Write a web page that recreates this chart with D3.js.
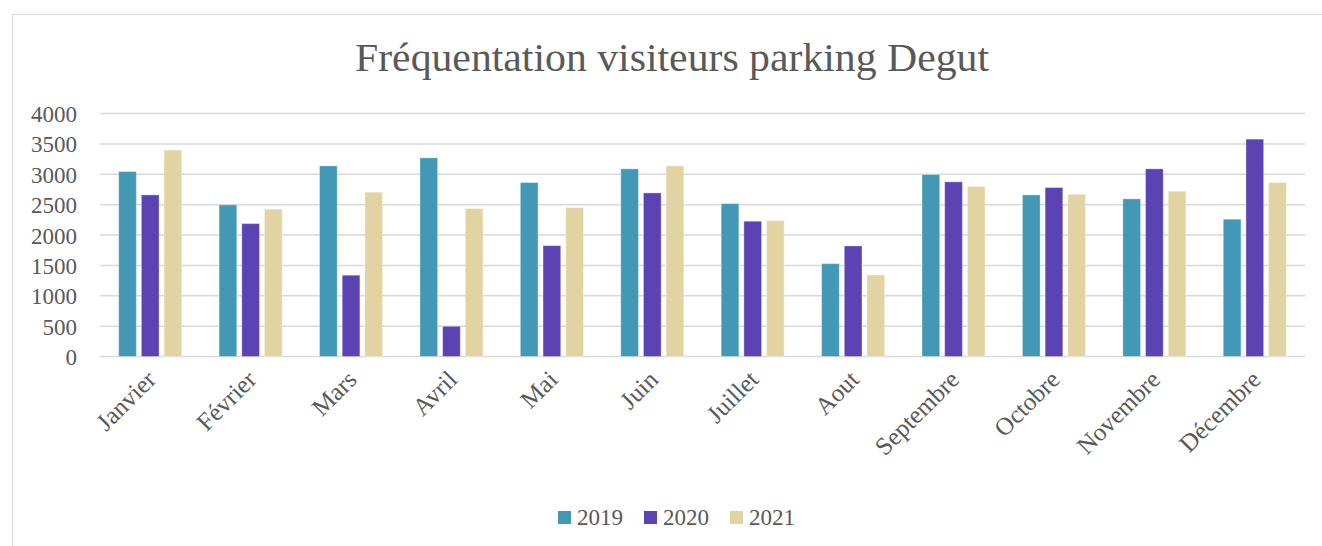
<!DOCTYPE html>
<html>
<head>
<meta charset="utf-8">
<script src="https://cdn.jsdelivr.net/npm/d3@7"></script>
<style>
  body { margin: 0; background: #fff; }
  svg text { font-family: "Palatino Linotype", "Book Antiqua", "Liberation Serif", serif; fill: #595959; }
</style>
</head>
<body>
<div id="chart"></div>
<script>
const months = ["Janvier", "Février", "Mars", "Avril", "Mai", "Juin", "Juillet", "Aout", "Septembre", "Octobre", "Novembre", "Décembre"];
const years = ["2019", "2020", "2021"];
const values2019 = [3045, 2496, 3138, 3270, 2863, 3089, 2517, 1529, 2995, 2660, 2595, 2260];
const values2020 = [2660, 2188, 1338, 497, 1825, 2693, 2227, 1820, 2875, 2781, 3089, 3578];
const values2021 = [3397, 2425, 2705, 2435, 2451, 3138, 2237, 1342, 2797, 2671, 2721, 2863];
const yTicks = [0, 500, 1000, 1500, 2000, 2500, 3000, 3500, 4000];
const colors = ["#4298b5", "#5b43b4", "#e2d4a2"];

const series = [values2019, values2020, values2021];
const data = months.map((m, i) => ({ month: m, vals: years.map((y, j) => ({ year: y, value: series[j][i] })) }));

const width = 1322, height = 546;
const svg = d3.select("#chart").append("svg").attr("width", width).attr("height", height);

// cadre
svg.append("rect").attr("x", 12.5).attr("y", 14.5).attr("width", 1320).attr("height", 540)
  .attr("fill", "none").attr("stroke", "#d9d9d9").attr("stroke-width", 1);

svg.append("text").attr("x", 672).attr("y", 71).attr("text-anchor", "middle")
  .attr("textLength", 634).attr("lengthAdjust", "spacingAndGlyphs")
  .style("font-size", "39px").text("Fréquentation visiteurs parking Degut");

const x0 = d3.scaleBand().domain(months).range([100, 1305]).paddingInner(0.372).paddingOuter(0.186);
const x1 = d3.scaleBand().domain(years).range([0, x0.bandwidth()]).paddingInner(0.22);
const y = d3.scaleLinear().domain([0, 4000]).range([356.5, 113.5]);

// grille
svg.append("g").selectAll("line").data(yTicks).enter().append("line")
  .attr("x1", 100).attr("x2", 1305)
  .attr("y1", d => y(d)).attr("y2", d => y(d))
  .attr("stroke", "#d9d9d9").attr("stroke-width", 1.5);

const yAxis = svg.append("g").attr("transform", "translate(77,0)")
  .call(d3.axisLeft(y).tickValues(yTicks).tickFormat(d3.format("d")).tickSize(0).tickPadding(0));
yAxis.select(".domain").remove();
yAxis.selectAll("text").style("font-size", "23px").attr("fill", "#595959").attr("dy", "0.35em");

const groups = svg.append("g").selectAll("g").data(data).enter().append("g")
  .attr("transform", d => `translate(${x0(d.month)},0)`);

groups.selectAll("rect").data(d => d.vals).enter().append("rect")
  .attr("x", d => x1(d.year)).attr("y", d => y(d.value))
  .attr("width", x1.bandwidth()).attr("height", d => y(0) - y(d.value))
  .attr("fill", (d, i) => colors[i])
  .attr("stroke", "#ffffff").attr("stroke-opacity", 0.35).attr("stroke-width", 1);

// étiquettes des mois
svg.append("g").selectAll("text").data(months).enter().append("text")
  .attr("transform", d => `translate(${x0(d) + x0.bandwidth() / 2 + 1},${375}) rotate(-45)`)
  .attr("text-anchor", "end").attr("dy", "0.35em")
  .style("font-size", "25px").text(d => d);

// légende
const legendX = [558, 644, 730];
const legend = svg.append("g").selectAll("g").data(years).enter().append("g")
  .attr("transform", (d, i) => `translate(${legendX[i]},511)`);
legend.append("rect").attr("width", 13).attr("height", 13).attr("fill", (d, i) => colors[i]);
legend.append("text").attr("x", 19).attr("y", 14).style("font-size", "23px").text(d => d);
</script>
</body>
</html>
